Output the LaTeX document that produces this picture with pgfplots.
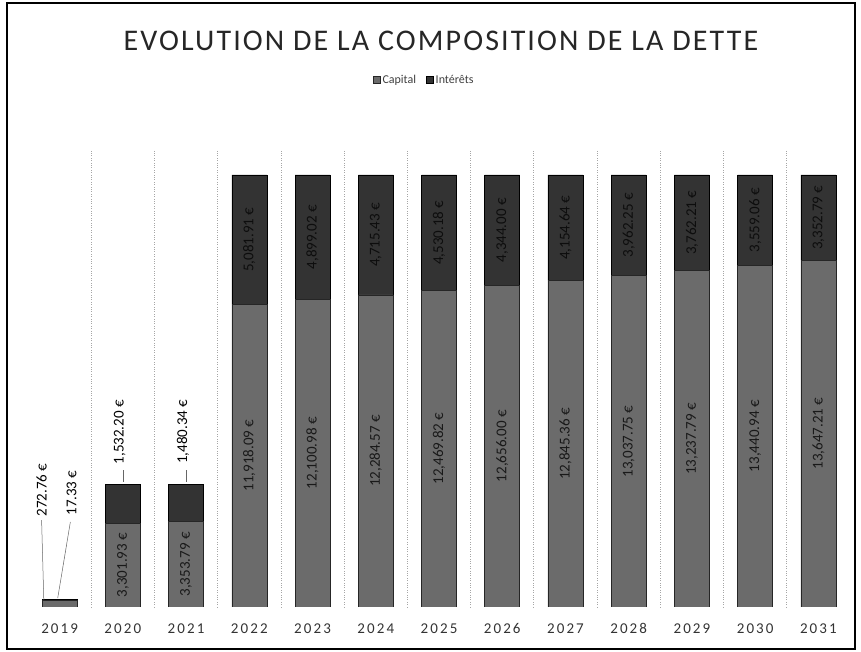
\documentclass[border=0pt]{standalone}
\usepackage{fontspec}
\setmainfont{Carlito}
\newfontfamily\titlefont[LetterSpace=7]{Carlito}
\newfontfamily\yearfont[LetterSpace=14]{Carlito}
\usepackage{pgfplots}
\pgfplotsset{compat=1.18}
\definecolor{capc}{HTML}{6B6B6B}
\definecolor{intc}{HTML}{333333}
\begin{document}
\begin{tikzpicture}[x=1pt,y=1pt]
\path (0,0) rectangle (861,652);
\draw[line width=2pt] (7,3) rectangle (855,649);
\node[font=\titlefont\fontsize{30}{32}\selectfont, text=black!85] at (441,611) {EVOLUTION DE LA COMPOSITION DE LA DETTE};
\begin{axis}[at={(28pt,45pt)}, anchor=south west, scale only axis,
  width=822pt, height=457pt, xmin=-0.5, xmax=12.5, ymin=0, ymax=17984,
  ybar stacked, bar width=35pt,
  axis y line=none, axis x line*=bottom, x axis line style={draw=none},
  xtick={0,1,2,3,4,5,6,7,8,9,10,11,12},
  xticklabels={2019,2020,2021,2022,2023,2024,2025,2026,2027,2028,2029,2030,2031},
  major tick length=0,
  xticklabel style={font=\yearfont\fontsize{15}{16}\selectfont, yshift=-13pt, text=black!80},
  minor xtick={0.5,1.5,2.5,3.5,4.5,5.5,6.5,7.5,8.5,9.5,10.5,11.5},
  xminorgrids, minor tick length=0, minor x grid style={black!35, dotted, line width=0.8pt},
  legend style={at={(0.482,1.153)}, anchor=center, draw=none, legend columns=2,
    font=\fontsize{12}{13}\selectfont, text=black!75,
    /tikz/every even column/.append style={column sep=8pt}},
  legend image code/.code={\draw[#1] (0pt,-3.5pt) rectangle (7pt,3.5pt);},
]
\addplot[fill=capc, draw=black!85, line width=0.6pt] coordinates {
 (0,272.76) (1,3301.93) (2,3353.79) (3,11918.09) (4,12100.98) (5,12284.57)
 (6,12469.82) (7,12656.00) (8,12845.36) (9,13037.75) (10,13237.79) (11,13440.94) (12,13647.21)};
\addplot[fill=intc, draw=black, line width=0.6pt] coordinates {
 (0,17.33) (1,1532.20) (2,1480.34) (3,5081.91) (4,4899.02) (5,4715.43)
 (6,4530.18) (7,4344.00) (8,4154.64) (9,3962.25) (10,3762.21) (11,3559.06) (12,3352.79)};
\legend{Capital, Intérêts}
\end{axis}
\begin{axis}[at={(28pt,45pt)}, anchor=south west, scale only axis,
  width=822pt, height=457pt, xmin=-0.5, xmax=12.5, ymin=0, ymax=17984,
  hide axis, clip=false]
% capital labels (centre of the capital segment)
\addplot[draw=none, mark=none, nodes near coords, point meta=explicit symbolic,
  every node near coord/.append style={anchor=center, rotate=90, font=\fontsize{15}{16}\selectfont, text=black!90}]
 coordinates {
 (1,1650.97) [3,301.93 €] (2,1676.90) [3,353.79 €] (3,5959.05) [11,918.09 €]
 (4,6050.49) [12,100.98 €] (5,6142.29) [12,284.57 €] (6,6234.91) [12,469.82 €]
 (7,6328.00) [12,656.00 €] (8,6422.68) [12,845.36 €] (9,6518.88) [13,037.75 €]
 (10,6618.90) [13,237.79 €] (11,6720.47) [13,440.94 €] (12,6823.61) [13,647.21 €]};
% interest labels (centre of the interest segment)
\addplot[draw=none, mark=none, nodes near coords, point meta=explicit symbolic,
  every node near coord/.append style={anchor=center, rotate=90, font=\fontsize{15}{16}\selectfont, text=black!95}]
 coordinates {
 (3,14459.05) [5,081.91 €] (4,14550.49) [4,899.02 €] (5,14642.29) [4,715.43 €]
 (6,14734.91) [4,530.18 €] (7,14828.00) [4,344.00 €] (8,14922.68) [4,154.64 €]
 (9,15018.88) [3,962.25 €] (10,15118.90) [3,762.21 €] (11,15220.47) [3,559.06 €]
 (12,15323.61) [3,352.79 €]};
% outside labels
\addplot[draw=none, mark=none, nodes near coords, point meta=explicit symbolic,
  every node near coord/.append style={anchor=center, rotate=90, font=\fontsize{15}{16}\selectfont, text=black}]
 coordinates {
 (-0.285,4604) [272.76 €] (0.19,4486) [17.33 €] (0.95,6880) [1,532.20 €] (1.95,6900) [1,480.34 €]};
% leader lines
\addplot[black!60, line width=0.5pt] coordinates {(-0.285,3423) (-0.25,275)};
\addplot[black!60, line width=0.5pt] coordinates {(0.17,3345) (-0.03,354)};
\addplot[black!60, line width=0.5pt] coordinates {(1,5390) (1,4920)};
\addplot[black!60, line width=0.5pt] coordinates {(2,5390) (2,4920)};
\end{axis}
\end{tikzpicture}
\end{document}
